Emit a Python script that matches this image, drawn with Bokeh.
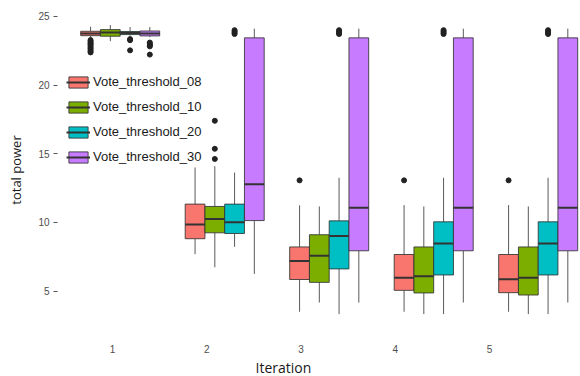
from bokeh.plotting import figure
from bokeh.models import (ColumnDataSource, Range1d, LinearAxis, FixedTicker,
                          Legend, LegendItem, Title)
from bokeh.embed import file_html
from bokeh.resources import INLINE

# ---------------- data ----------------
iterations = [1, 2, 3, 4, 5]
series = ["Vote_threshold_08", "Vote_threshold_10", "Vote_threshold_20", "Vote_threshold_30"]
colors = ["#F8766D", "#7CAE00", "#00BFC4", "#C77CFF"]

lower_08 = [23.45, 7.68, 3.49, 3.49, 3.49]
q1_08 = [23.60, 8.81, 5.84, 5.05, 4.88]
med_08 = [23.75, 9.84, 7.18, 5.96, 5.86]
q3_08 = [23.92, 11.33, 8.21, 7.66, 7.66]
upper_08 = [24.25, 14.00, 11.24, 11.26, 11.26]
out_08 = [[23.28, 23.20, 23.10, 23.02, 22.95, 22.85, 22.74, 22.66, 22.55, 22.45, 22.38],
          [], [13.06], [13.06], [13.06]]

lower_10 = [23.20, 6.73, 4.16, 3.32, 3.32]
q1_10 = [23.56, 9.24, 5.63, 4.86, 4.71]
med_10 = [23.83, 10.25, 7.57, 6.08, 5.96]
q3_10 = [24.04, 11.16, 9.10, 8.21, 8.21]
upper_10 = [24.37, 14.09, 11.16, 11.16, 11.16]
out_10 = [[], [17.40, 15.36, 14.62], [], [], []]

lower_20 = [23.60, 8.22, 3.32, 3.32, 3.32]
q1_20 = [23.68, 9.19, 6.61, 6.17, 6.17]
med_20 = [23.80, 10.01, 9.01, 8.47, 8.47]
q3_20 = [23.90, 11.33, 10.11, 10.04, 10.04]
upper_20 = [24.23, 13.63, 13.25, 13.25, 13.25]
out_20 = [[23.35, 23.27, 22.53], [24.00, 23.90, 23.80, 23.72],
          [24.00, 23.90, 23.80, 23.72], [24.00, 23.90, 23.80, 23.72],
          [24.00, 23.90, 23.80, 23.72]]

lower_30 = [23.50, 6.25, 4.16, 4.16, 4.16]
q1_30 = [23.58, 10.13, 7.93, 7.93, 7.93]
med_30 = [23.75, 12.77, 11.07, 11.07, 11.07]
q3_30 = [23.94, 23.44, 23.44, 23.44, 23.44]
upper_30 = [24.23, 24.11, 24.11, 24.11, 24.11]
out_30 = [[23.10, 23.00, 22.90, 22.82, 22.22], [], [], [], []]

y_ticks = [5, 10, 15, 20, 25]

stats = [
    (lower_08, q1_08, med_08, q3_08, upper_08, out_08),
    (lower_10, q1_10, med_10, q3_10, upper_10, out_10),
    (lower_20, q1_20, med_20, q3_20, upper_20, out_20),
    (lower_30, q1_30, med_30, q3_30, upper_30, out_30),
]

# ---------------- figure ----------------
p = figure(width=580, height=376, output_backend="svg", toolbar_location=None,
           x_range=Range1d(0.4, 0.4 + 523 / 104.5), y_range=Range1d(2.27, 25.36),
           x_axis_location=None,
           min_border_left=57, min_border_right=0, min_border_top=11, min_border_bottom=44)
p.background_fill_color = "white"
p.border_fill_color = "white"
p.outline_line_color = None
p.xgrid.visible = False
p.ygrid.visible = False

offsets = [-0.2835, -0.0945, 0.0945, 0.2835]
box_w = 0.189

legend_items = []
for si, (name, col, st) in enumerate(zip(series, colors, stats)):
    lo, q1, md, q3, up, outs = st
    xs = [it + offsets[si] for it in iterations]
    src = ColumnDataSource(dict(x=xs, lo=lo, q1=q1, md=md, q3=q3, up=up,
                                x0=[x - box_w / 2 for x in xs],
                                x1=[x + box_w / 2 for x in xs]))
    p.segment(x0="x", y0="q3", x1="x", y1="up", source=src, line_color="#5a5a5a", line_width=1)
    p.segment(x0="x", y0="lo", x1="x", y1="q1", source=src, line_color="#5a5a5a", line_width=1)
    box = p.vbar(x="x", width=box_w, bottom="q1", top="q3", source=src,
                 fill_color=col, line_color="#333333", line_alpha=0.85, line_width=1)
    med = p.segment(x0="x0", y0="md", x1="x1", y1="md", source=src,
                    line_color="#333333", line_width=2)
    ox, oy = [], []
    for it, vals in zip(iterations, outs):
        for v in vals:
            ox.append(it + offsets[si])
            oy.append(v)
    p.scatter(x=ox, y=oy, size=5, fill_color="#222222", line_color="#222222")
    legend_items.append(LegendItem(label=name, renderers=[box, med]))

# y axis
p.yaxis.ticker = FixedTicker(ticks=y_ticks)
p.yaxis.axis_line_color = None
p.yaxis.major_tick_in = 0
p.yaxis.major_tick_out = 4
p.yaxis.major_tick_line_color = "#555555"
p.yaxis.minor_tick_line_color = None
p.yaxis.major_label_standoff = 4
p.yaxis.major_label_text_font = "Liberation Sans"
p.yaxis.major_label_text_font_size = "10px"
p.yaxis.major_label_text_color = "#4d4d4d"
p.yaxis.axis_label = "total power"
p.yaxis.axis_label_text_font = "Open Sans"
p.yaxis.axis_label_text_font_size = "13px"
p.yaxis.axis_label_text_font_style = "normal"
p.yaxis.axis_label_text_color = "#1a1a1a"
p.yaxis.axis_label_standoff = 10

# x tick labels (own scale, as placed in the reference)
p.extra_x_ranges = {"lab": Range1d(1 - 55 / 94.25, 5 + 91 / 94.25)}
xlab = LinearAxis(x_range_name="lab", ticker=FixedTicker(ticks=iterations))
xlab.axis_line_color = None
xlab.major_tick_line_color = None
xlab.minor_tick_line_color = None
xlab.major_label_standoff = 10
xlab.major_label_text_font = "Liberation Sans"
xlab.major_label_text_font_size = "10px"
xlab.major_label_text_color = "#4d4d4d"
p.add_layout(xlab, "below")

p.add_layout(Title(text="Iteration", align="left", offset=198, standoff=0,
                   text_font="Open Sans", text_font_size="14px",
                   text_font_style="normal", text_color="#1a1a1a"), "below")

legend = Legend(items=legend_items, location=(9, 164), orientation="vertical",
                background_fill_alpha=0, border_line_alpha=0, padding=0, margin=0,
                spacing=10, glyph_width=24, glyph_height=14, label_height=14,
                label_standoff=3, label_text_font="Liberation Sans",
                label_text_font_size="13px", label_text_color="#1a1a1a")
p.add_layout(legend)

open("out.html", "w").write(file_html(p, INLINE))
